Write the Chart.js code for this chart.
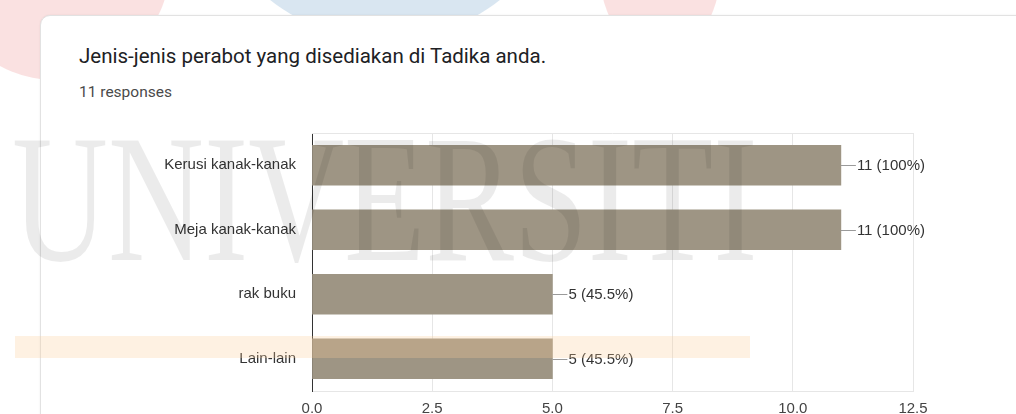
<!DOCTYPE html>
<html>
<head>
<meta charset="utf-8">
<script src="https://cdn.jsdelivr.net/npm/chart.js@4.4.0/dist/chart.umd.min.js"></script>
<style>
  html, body { margin:0; padding:0; width:1016px; height:414px; overflow:hidden; background:#fff; }
  #wrap { position:relative; width:1016px; height:414px; overflow:hidden; }
  #card { position:absolute; left:40px; top:15px; width:1000px; height:420px; border:1px solid #e2e2e2; border-radius:10px; background:#fff; box-shadow:0 0 2px rgba(0,0,0,0.08); }
  #title { position:absolute; left:79px; top:44px; font-family:Roboto, "Noto Sans", sans-serif; font-size:20.5px; color:#202124; white-space:nowrap; }
  #resp { position:absolute; left:79px; top:83px; font-family:Roboto, "Noto Sans", sans-serif; font-size:15.5px; color:#4a4a4a; white-space:nowrap; }
  #cv { position:absolute; left:0; top:0; }
  .wm { position:absolute; pointer-events:none; }
</style>
</head>
<body>
<div id="wrap">
  <div class="wm" style="left:-60px;top:-150px;width:230px;height:230px;border-radius:50%;background:rgba(240,170,170,0.35);"></div>
  <div class="wm" style="left:200px;top:-330px;width:370px;height:370px;border-radius:50%;background:rgba(170,200,225,0.45);"></div>
  <div class="wm" style="left:600px;top:-110px;width:120px;height:165px;border-radius:50%;background:rgba(240,170,170,0.35);"></div>
  <div id="card"></div>
  <div id="title">Jenis-jenis perabot yang disediakan di Tadika anda.</div>
  <div id="resp">11 responses</div>
  <canvas id="cv" width="1016" height="432" style="width:1016px;height:432px;"></canvas>
  <div class="wm" style="left:15px;top:336px;width:735px;height:22px;background:rgba(250,205,150,0.28);"></div>
  <div class="wm" style="left:12px;top:108px;font-family:'Liberation Serif','DejaVu Serif',serif;font-size:182px;color:rgba(0,0,0,0.08);white-space:nowrap;transform:scaleX(0.73);transform-origin:0 0;line-height:1;">UNIVERSITI</div>
</div>
<script>
const categories = ['Kerusi kanak-kanak', 'Meja kanak-kanak', 'rak buku', 'Lain-lain'];
const counts = [11, 11, 5, 5];
const percentLabels = ['100%', '100%', '45.5%', '45.5%'];
const xTicks = [0, 2.5, 5, 7.5, 10, 12.5];

const FONT = '"Liberation Sans", Arial, sans-serif';

const barLabelPlugin = {
  id: 'barLabels',
  afterDatasetsDraw(chart) {
    const ctx = chart.ctx;
    const meta = chart.getDatasetMeta(0);
    ctx.save();
    meta.data.forEach((bar, i) => {
      const x = bar.x, y = bar.y;
      ctx.strokeStyle = '#9a9a9a';
      ctx.lineWidth = 1;
      ctx.beginPath();
      ctx.moveTo(x, Math.round(y) + 0.5);
      ctx.lineTo(x + 15, Math.round(y) + 0.5);
      ctx.stroke();
      ctx.fillStyle = '#333';
      ctx.font = '15px ' + FONT;
      ctx.textAlign = 'left';
      ctx.textBaseline = 'middle';
      ctx.fillText(counts[i] + ' (' + percentLabels[i] + ')', x + 16, y + 1);
    });
    ctx.restore();
  },
  beforeDatasetsDraw(chart) {
    const ctx = chart.ctx, a = chart.chartArea;
    ctx.save();
    ctx.strokeStyle = '#e6e6e6';
    ctx.lineWidth = 1;
    ctx.beginPath();
    ctx.moveTo(a.left, a.top + 0.5);
    ctx.lineTo(a.right, a.top + 0.5);
    ctx.stroke();
    ctx.restore();
  }
};

new Chart(document.getElementById('cv'), {
  type: 'bar',
  data: {
    labels: categories,
    datasets: [{
      data: counts,
      backgroundColor: '#9e9584',
      borderWidth: 0,
      barThickness: 40,
      categoryPercentage: 1,
      barPercentage: 0.64
    }]
  },
  options: {
    indexAxis: 'y',
    responsive: false,
    animation: false,
    devicePixelRatio: 1,
    layout: { padding: { top: 133, right: 103, bottom: 3, left: 0 } },
    plugins: { legend: { display: false }, tooltip: { enabled: false } },
    scales: {
      x: {
        min: 0, max: 12.5,
        afterBuildTicks(scale) { scale.ticks = xTicks.map(v => ({ value: v })); },
        afterFit(scale) { scale.height = 38; },
        ticks: {
          padding: 9,
          color: '#444',
          font: { family: FONT, size: 15 },
          callback: (v) => Number(v).toFixed(1)
        },
        grid: { color: '#e6e6e6', drawTicks: false },
        border: { display: true, color: '#e6e6e6' }
      },
      y: {
        afterFit(scale) { scale.width = 312; },
        ticks: {
          padding: 16,
          color: '#333',
          font: { family: FONT, size: 15 }
        },
        grid: { display: false, drawTicks: false },
        border: { display: true, color: '#333', width: 1 }
      }
    }
  },
  plugins: [barLabelPlugin]
});
</script>
</body>
</html>
